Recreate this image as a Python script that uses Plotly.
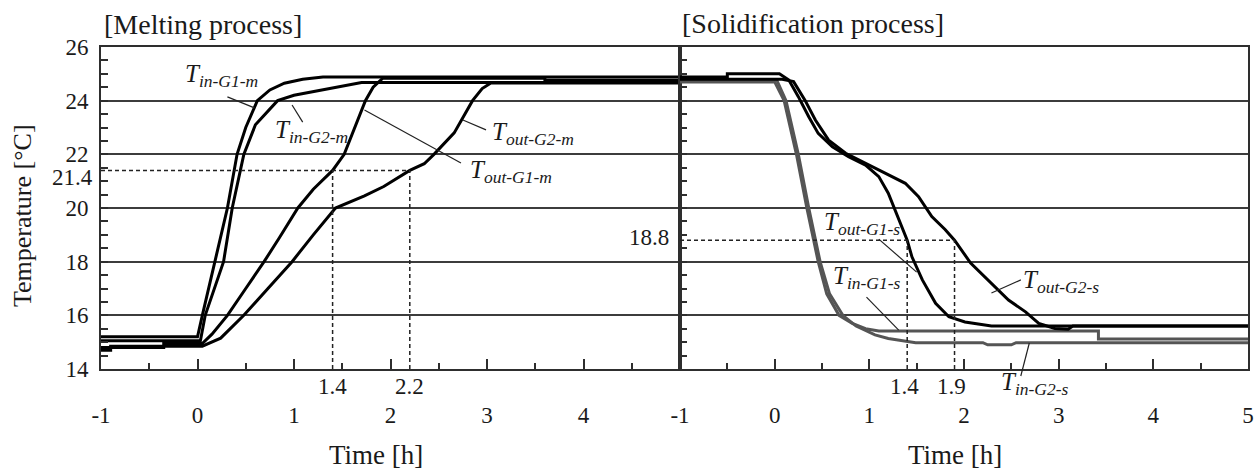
import plotly.graph_objects as go

# ---------------- data ----------------
# Melting process: time [h] and temperature [°C]
t_in_g1_m = [-1.0, 0.0, 0.05, 0.18, 0.31, 0.41, 0.5, 0.62, 0.75, 0.9, 1.09, 1.3, 5.0]
T_in_g1_m = [15.2, 15.2, 16.0, 18.0, 20.0, 22.0, 23.0, 24.0, 24.4, 24.65, 24.8, 24.88, 24.88]

t_in_g2_m = [-1.0, 0.03, 0.08, 0.27, 0.36, 0.48, 0.6, 0.83, 1.0, 1.31, 1.5, 1.7, 5.0]
T_in_g2_m = [15.05, 15.05, 16.0, 18.0, 20.0, 22.0, 23.1, 24.0, 24.2, 24.4, 24.55, 24.68, 24.68]

t_out_g1_m = [-1.0, -0.35, -0.35, 0.05, 0.15, 0.31, 0.5, 0.69, 0.85, 1.04, 1.2, 1.4, 1.52,
              1.63, 1.74, 1.82, 1.92, 3.6, 3.6, 5.0]
T_out_g1_m = [14.8, 14.8, 14.95, 14.95, 15.3, 16.0, 17.0, 18.0, 18.9, 20.0, 20.7, 21.4, 22.0,
              23.0, 24.0, 24.5, 24.84, 24.84, 24.76, 24.76]

t_out_g2_m = [-1.0, -0.9, -0.9, 0.05, 0.24, 0.48, 0.73, 0.98, 1.2, 1.43, 1.73, 1.93, 2.2,
              2.35, 2.45, 2.66, 2.85, 2.95, 3.04, 5.0]
T_out_g2_m = [14.7, 14.7, 14.85, 14.85, 15.15, 16.0, 17.0, 18.0, 19.0, 20.0, 20.45, 20.8, 21.4,
              21.65, 22.0, 22.8, 24.0, 24.45, 24.66, 24.66]

# Solidification process
t_in_g1_s = [-1.0, 0.0, 0.1, 0.23, 0.34, 0.46, 0.55, 0.68, 0.82, 0.96, 1.1, 3.42, 3.42, 5.0]
T_in_g1_s = [24.7, 24.7, 24.0, 22.0, 20.0, 18.0, 16.8, 16.0, 15.7, 15.5, 15.42, 15.42, 15.12, 15.12]

t_in_g2_s = [-1.0, 0.02, 0.12, 0.25, 0.36, 0.48, 0.58, 0.72, 0.86, 1.06, 1.2, 1.49, 2.2,
             2.25, 2.5, 2.55, 5.0]
T_in_g2_s = [24.78, 24.78, 24.0, 22.0, 20.0, 18.0, 16.8, 16.0, 15.6, 15.27, 15.14, 14.98, 14.98,
             14.9, 14.9, 14.98, 14.98]

t_out_g1_s = [-1.0, -0.5, -0.5, 0.05, 0.15, 0.25, 0.36, 0.46, 0.61, 0.78, 0.96, 1.1, 1.2,
              1.31, 1.4, 1.45, 1.56, 1.7, 1.84, 2.01, 2.29, 5.0]
T_out_g1_s = [24.88, 24.88, 25.0, 25.0, 24.77, 24.15, 23.4, 22.78, 22.28, 21.91, 21.6, 21.17, 20.55,
              19.55, 18.8, 18.18, 17.32, 16.45, 15.95, 15.75, 15.6, 15.6]

t_out_g2_s = [-1.0, 0.08, 0.2, 0.32, 0.43, 0.57, 0.75, 0.96, 1.17, 1.38, 1.52, 1.66, 1.8,
              1.9, 2.07, 2.29, 2.47, 2.65, 2.79, 2.96, 3.1, 3.15, 5.0]
T_out_g2_s = [24.8, 24.8, 24.71, 24.02, 23.28, 22.53, 22.04, 21.66, 21.29, 20.92, 20.42, 19.68, 19.2,
              18.8, 17.95, 17.19, 16.57, 16.13, 15.7, 15.51, 15.48, 15.6, 15.6]

# Reference read-offs
melt_ref_temp = 21.4
melt_ref_times = [1.4, 2.2]
solid_ref_temp = 18.8
solid_ref_times = [1.4, 1.9]

# Axis ticks
x_ticks_left = [-1, 0, 1, 2, 3, 4]
x_ticks_right = [-1, 0, 1, 2, 3, 4, 5]
y_ticks = [14, 16, 18, 20, 22, 24, 26]

# ---------------- layout helpers ----------------
W, H = 1255, 471
FONT = "Liberation Serif, Times New Roman, serif"
TXT = "#1a1a1a"
FRAME = "#2e2e2e"
GRID = "#3c3c3c"
GRAY = "#555555"


def px(x):
    return x / W


def py(y):
    return 1 - y / H


dom_left = [px(101), px(680)]
dom_right = [px(680), px(1248)]
dom_y = [py(369), py(47)]

fig = go.Figure()

curves = [
    (t_in_g1_m, T_in_g1_m, "x", "y", "black"),
    (t_in_g2_m, T_in_g2_m, "x", "y", "black"),
    (t_out_g1_m, T_out_g1_m, "x", "y", "black"),
    (t_out_g2_m, T_out_g2_m, "x", "y", "black"),
    (t_in_g1_s, T_in_g1_s, "x2", "y2", GRAY),
    (t_in_g2_s, T_in_g2_s, "x2", "y2", GRAY),
    (t_out_g1_s, T_out_g1_s, "x2", "y2", "black"),
    (t_out_g2_s, T_out_g2_s, "x2", "y2", "black"),
]
for tx, ty, xa, ya, col in curves:
    fig.add_trace(go.Scatter(x=tx, y=ty, xaxis=xa, yaxis=ya, mode="lines",
                             line=dict(color=col, width=3),
                             showlegend=False, hoverinfo="skip"))

# dashed read-off lines
dash = dict(color="#222222", width=1.5, dash="4px,3px")
shapes = []
shapes.append(dict(type="line", xref="x", yref="y", x0=-1, x1=max(melt_ref_times),
                   y0=melt_ref_temp, y1=melt_ref_temp, line=dash))
for tv in melt_ref_times:
    shapes.append(dict(type="line", xref="x", yref="y", x0=tv, x1=tv,
                       y0=14, y1=melt_ref_temp, line=dash))
shapes.append(dict(type="line", xref="x2", yref="y2", x0=-1, x1=max(solid_ref_times),
                   y0=solid_ref_temp, y1=solid_ref_temp, line=dash))
for tv in solid_ref_times:
    shapes.append(dict(type="line", xref="x2", yref="y2", x0=tv, x1=tv,
                       y0=14, y1=solid_ref_temp, line=dash))

# curve labels: (subscript, xref, yref, x, y) and leader lines
labels = [
    ("in-G1-m", "x", "y", -0.155, 25.01),
    ("in-G2-m", "x", "y", 0.78, 22.91),
    ("out-G2-m", "x", "y", 3.03, 22.85),
    ("out-G1-m", "x", "y", 2.8, 21.42),
    ("out-G1-s", "x2", "y2", 0.5, 19.5),
    ("in-G1-s", "x2", "y2", 0.59, 17.5),
    ("out-G2-s", "x2", "y2", 2.6, 17.32),
    ("in-G2-s", "x2", "paper", 2.37, py(381)),
]
leaders = [
    ("x", "y", 0.31, 24.14, 0.59, 23.73),
    ("x", "y", 0.98, 23.84, 1.09, 23.2),
    ("x", "y", 1.73, 23.65, 2.73, 21.68),
    ("x", "y", 2.75, 23.28, 2.99, 22.91),
    ("x2", "y2", 1.10, 18.84, 1.50, 17.61),
    ("x2", "y2", 0.97, 16.68, 1.31, 15.45),
    ("x2", "y2", 2.29, 16.83, 2.6, 17.32),
    ("x2", "paper", 2.69, py(343), 2.6, py(376)),
]
for xr, yr, x0, y0, x1, y1 in leaders:
    shapes.append(dict(type="line", xref=xr, yref=yr, x0=x0, y0=y0, x1=x1, y1=y1,
                       line=dict(color="#222222", width=1.2)))

annotations = []
for sub, xr, yr, xv, yv in labels:
    annotations.append(dict(text=f"<i>T</i><sub><i>{sub}</i></sub>", xref=xr, yref=yr,
                            x=xv, y=yv, xanchor="left", yanchor="middle", showarrow=False,
                            font=dict(family=FONT, size=25, color=TXT), yshift=-2))

# panel titles
annotations.append(dict(text="[Melting process]", xref="paper", yref="paper", x=px(102),
                        y=py(25), xanchor="left", yanchor="middle", showarrow=False,
                        font=dict(family=FONT, size=28, color=TXT)))
annotations.append(dict(text="[Solidification process]", xref="paper", yref="paper",
                        x=px(680), y=py(24), xanchor="left", yanchor="middle",
                        showarrow=False, font=dict(family=FONT, size=28, color=TXT)))
# axis titles
annotations.append(dict(text="Temperature [°C]", xref="paper", yref="paper", x=px(22),
                        y=py(216), textangle=-90, showarrow=False, xanchor="center",
                        yanchor="middle", font=dict(family=FONT, size=26, color=TXT)))
for cx in (376, 955):
    annotations.append(dict(text="Time [h]", xref="paper", yref="paper", x=px(cx),
                            y=py(455), showarrow=False, xanchor="center", yanchor="middle",
                            font=dict(family=FONT, size=27, color=TXT)))
# read-off values
for tv in melt_ref_times:
    annotations.append(dict(text=f"{tv}", xref="x", yref="paper", x=tv, y=py(386),
                            showarrow=False, xanchor="center", yanchor="middle",
                            font=dict(family=FONT, size=23, color=TXT)))
for tv in solid_ref_times:
    annotations.append(dict(text=f"{tv}", xref="x2", yref="paper", x=tv, y=py(386),
                            showarrow=False, xanchor="center", yanchor="middle", xshift=-3,
                            font=dict(family=FONT, size=23, color=TXT)))
annotations.append(dict(text=f"{melt_ref_temp}", xref="paper", yref="y", x=px(95),
                        y=melt_ref_temp, yshift=-7, showarrow=False, xanchor="right",
                        yanchor="middle", font=dict(family=FONT, size=23, color=TXT)))
annotations.append(dict(text=f"{solid_ref_temp}", xref="paper", yref="y2", x=px(671),
                        y=solid_ref_temp, yshift=3, showarrow=False, xanchor="right",
                        yanchor="middle", font=dict(family=FONT, size=23, color=TXT)))

tickfont = dict(family=FONT, size=23, color=TXT)


def xaxis_cfg(dom, ticks, anchor):
    return dict(domain=dom, range=[-1, 5], tickmode="array", tickvals=ticks,
                ticktext=[str(v) for v in ticks], showline=True, mirror=True,
                linecolor=FRAME, linewidth=2, ticks="inside", ticklen=10, tickwidth=1.5,
                tickcolor=FRAME, showgrid=False, zeroline=False, tickfont=tickfont,
                ticklabelstandoff=24, anchor=anchor, automargin=False,
                minor=dict(tickmode="linear", tick0=0, dtick=0.5, ticks="inside", ticklen=6,
                           tickwidth=1.5, tickcolor=FRAME, showgrid=False))


def yaxis_cfg(anchor, labels_on):
    return dict(domain=dom_y, range=[14, 26], tickmode="array", tickvals=y_ticks,
                ticktext=[str(v) for v in y_ticks], showticklabels=labels_on,
                showline=True, mirror=True, linecolor=FRAME, linewidth=2, ticks="inside",
                ticklen=7, tickwidth=1.5, tickcolor=FRAME, showgrid=True, gridcolor=GRID,
                gridwidth=1.5, zeroline=False, tickfont=tickfont, ticklabelstandoff=6,
                anchor=anchor, automargin=False,
                minor=dict(tickmode="linear", tick0=14, dtick=0.5, ticks="inside", ticklen=7,
                           tickwidth=1.5, tickcolor=FRAME, showgrid=False))


fig.update_layout(
    width=W, height=H,
    margin=dict(l=0, r=0, t=0, b=0, autoexpand=False),
    paper_bgcolor="white", plot_bgcolor="white",
    xaxis=xaxis_cfg(dom_left, x_ticks_left, "y"),
    xaxis2=xaxis_cfg(dom_right, x_ticks_right, "y2"),
    yaxis=yaxis_cfg("x", True), yaxis2=yaxis_cfg("x2", False),
    shapes=shapes, annotations=annotations,
    showlegend=False,
)

fig.write_html("out.html")
